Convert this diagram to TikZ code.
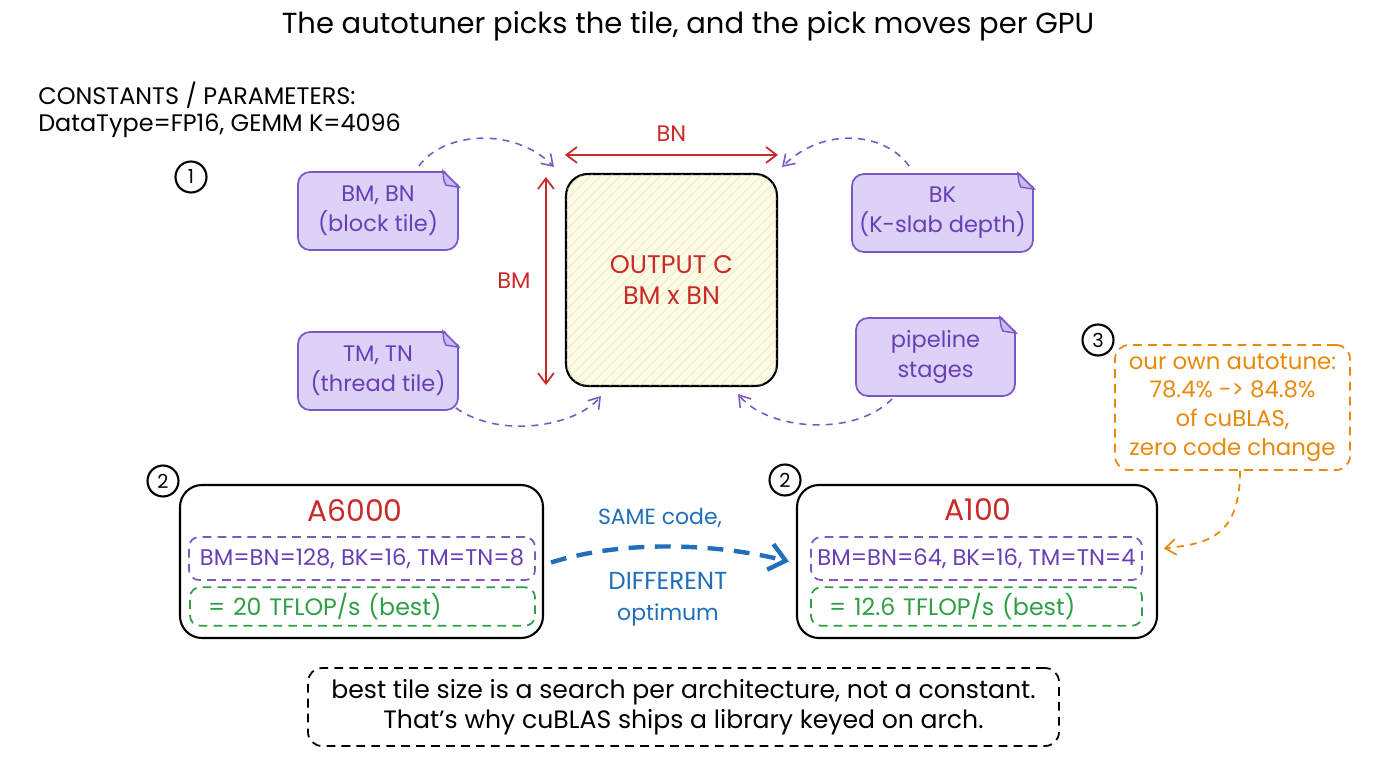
\documentclass[tikz,border=0pt]{standalone}
\usepackage{fontspec}
\setmainfont{Poppins}
\usetikzlibrary{arrows.meta,calc,patterns.meta}
\definecolor{notefill}{HTML}{DDD1F7}
\definecolor{notefold}{HTML}{CBBAF0}
\definecolor{notedraw}{HTML}{7A58C6}
\definecolor{notetext}{HTML}{6640B6}
\definecolor{redc}{HTML}{C92A2A}
\definecolor{greenc}{HTML}{2F9E44}
\definecolor{bluec}{HTML}{1F6FBA}
\definecolor{orangec}{HTML}{E8890C}
\definecolor{hatch}{HTML}{DEDE86}
\definecolor{hatchfill}{HTML}{FBFBE8}
\newcommand\pxu{0.02cm}
\tikzset{
  txt/.style={font=\fontsize{12.8}{17}\selectfont},
  notebox/.style={txt, text=notetext, align=center, fill=notefill, draw=notedraw,
    line width=1pt, rounded corners=12*\pxu, minimum width=#1*\pxu, minimum height=78*\pxu},
  badge/.style={font=\fontsize{11}{13}\selectfont, circle, draw, line width=1.2pt, minimum size=31*\pxu, inner sep=0pt},
  gpubox/.style={draw, line width=1.2pt, rounded corners=22*\pxu, minimum width=#1*\pxu,
    minimum height=153*\pxu},
  gputitle/.style={font=\fontsize{17}{19}\selectfont, text=redc},
  cfgbox/.style={font=\fontsize{12.9}{15}\selectfont, text=notetext, draw=notedraw, dashed, dash pattern=on 5pt off 3.5pt,
    line width=1pt, rounded corners=10*\pxu, minimum width=#1*\pxu, minimum height=43*\pxu},
  perfbox/.style={font=\fontsize{13.5}{15}\selectfont, text=greenc, draw=greenc, dashed, dash pattern=on 5pt off 3.5pt,
    line width=1pt, rounded corners=10*\pxu, inner xsep=18*\pxu, text width=(#1-36)*\pxu,
    align=left, minimum height=35*\pxu},
  dimarrow/.style={redc, line width=1pt, {Straight Barb[length=6pt,width=9pt]}-{Straight Barb[length=6pt,width=9pt]}},
  paramarrow/.style={notedraw, line width=0.9pt, dash pattern=on 4pt off 3.5pt,
    -{Straight Barb[length=6pt,width=8pt]}},
}
\begin{document}
\begin{tikzpicture}[x=0.02cm, y=-0.02cm]
\useasboundingbox (0,0) rectangle (1376,768);
% title and constants
\node (title) at (688,26) {\fontsize{16.5}{19}\selectfont The autotuner picks the tile, and the pick moves per GPU};
\node (consts) [font=\fontsize{13.6}{15.4}\selectfont, anchor=west, align=left, inner sep=0pt] at (38,110)
  {CONSTANTS / PARAMETERS:\\DataType=FP16, GEMM K=4096};
% tile parameters
\node (c1) [badge] at (191,177) {1};
\node (bmbn) [notebox=160] at (378,211) {BM, BN\\(block tile)};
\node (tmtn) [notebox=160] at (378,371) {TM, TN\\(thread tile)};
\node (bk) [notebox=181] at (942.5,213) {BK\\(K-slab depth)};
\node (pipe) [notebox=159] at (935.5,357) {pipeline\\stages};
\foreach \n in {bmbn,tmtn,bk,pipe}{
  \fill[white] ($(\n.north east)+(-16,-2)$) -- ($(\n.north east)+(2,-2)$) -- ($(\n.north east)+(2,16)$) -- cycle;
  \draw[notedraw, line width=1pt] ($(\n.north east)+(-16,0)$) -- ($(\n.north east)+(0,16)$);
  \draw[notedraw, line width=0.8pt, fill=notefold] ($(\n.north east)+(-16,0)$)
    .. controls ($(\n.north east)+(-15,10)$) .. ($(\n.north east)+(-13,14)$) -- ($(\n.north east)+(0,16)$) -- cycle;
}
% output tile
\node (outc) [font=\fontsize{14.5}{18}\selectfont, draw=black, line width=1.2pt, rounded corners=22*\pxu, fill=hatchfill,
  postaction={pattern={Lines[angle=45,distance=4pt,line width=0.35pt]}, pattern color=hatch},
  minimum width=211*\pxu, minimum height=212*\pxu, text=redc, align=center]
  at (671.5,280) {OUTPUT C\\BM x BN};
\draw[dimarrow] ($(outc.north west)+(0,-18)$) -- node[txt, above=4pt] (bnlbl) {BN} ($(outc.north east)+(0,-18)$);
\draw[dimarrow] ($(outc.north west)+(-19,4)$) -- node[txt, left=5pt] (bmlbl) {BM} ($(outc.south west)+(-19,-2)$);
\draw[paramarrow] ($(bmbn.north east)+(-40,-5)$) .. controls ($(bmbn.north east)+(-15,-40)$)
  and ($(outc.north west)+(-50,-46)$) .. ($(outc.north west)+(-11,-6)$);
\draw[paramarrow] ($(bk.north west)+(58,-7)$) .. controls ($(bk.north west)+(33,-42)$)
  and ($(outc.north east)+(44,-46)$) .. ($(outc.north east)+(4,-6)$);
\draw[paramarrow] ($(tmtn.south east)+(-3,-3)$) .. controls ($(tmtn.south east)+(40,28)$)
  and ($(outc.south west)+(10,40)$) .. ($(outc.south west)+(36,9)$);
\draw[paramarrow] ($(pipe.south west)+(37,2)$) .. controls ($(pipe.south west)+(0,40)$)
  and ($(outc.south east)+(-10,44)$) .. ($(outc.south east)+(-40,7)$);
% own autotune note
\node (c3) [badge] at (1098,340) {3};
\node (own) [text=orangec, draw=orangec, dashed, dash pattern=on 5pt off 3.5pt, line width=1pt,
  rounded corners=14*\pxu, align=center, minimum width=235*\pxu, minimum height=125*\pxu,
  font=\fontsize{13}{16.3}\selectfont] at (1232.5,407.5)
  {our own autotune:\\78.4\% -> 84.8\%\\of cuBLAS,\\zero code change};
% the two GPUs
\node (c2a) [badge] at (163,481) {2};
\node (gpuA) [gpubox=363] at (361.5,561.5) {};
\node (nameA) [gputitle] at (355,510) {A6000};
\node (cfgA) [cfgbox=346] at (362,558.5) {BM=BN=128, BK=16, TM=TN=8};
\node (perfA) [perfbox=345] at (362.5,606.5) {= 20 TFLOP/s (best)};
\node (c2b) [badge] at (785,480) {2};
\node (gpuB) [gpubox=360] at (977,561.5) {};
\node (nameB) [gputitle] at (978,510) {A100};
\node (cfgB) [cfgbox=331] at (976.5,558.5) {BM=BN=64, BK=16, TM=TN=4};
\node (perfB) [perfbox=331] at (976.5,606.5) {= 12.6 TFLOP/s (best)};
\draw[orangec, line width=1pt, dash pattern=on 4pt off 3.5pt, -{Straight Barb[length=6pt,width=9pt]}]
  ($(own.south)+(7.5,0)$) .. controls ($(own.south)+(7.5,70)$) and ($(cfgB.east)+(60,-15)$) .. ($(cfgB.east)+(21,-10)$);
\draw[bluec, line width=2.5pt, dash pattern=on 9pt off 6pt, -{Straight Barb[length=9pt,width=15pt]}]
  ($(gpuA.east)+(7,1)$) .. controls ($(gpuA.east)+(80,-22)$) and ($(gpuB.west)+(-80,-18)$) .. ($(gpuB.west)+(-7,0)$);
\node (samelbl) [text=bluec, font=\fontsize{12.5}{15}\selectfont] at (660,518) {SAME code,};
\node (difflbl) [text=bluec, font=\fontsize{12.5}{17.5}\selectfont, align=center] at (668,599) {{\fontsize{14}{17.5}\selectfont DIFFERENT}\\optimum};
% takeaway
\node (takeaway) [draw, dashed, dash pattern=on 5pt off 3.5pt, line width=1pt, rounded corners=14*\pxu,
  align=center, minimum width=751*\pxu, minimum height=78*\pxu, font=\fontsize{14.3}{17}\selectfont] at (683.5,707)
  {best tile size is a search per architecture, not a constant.\\That’s why cuBLAS ships a library keyed on arch.};
\end{tikzpicture}
\end{document}
